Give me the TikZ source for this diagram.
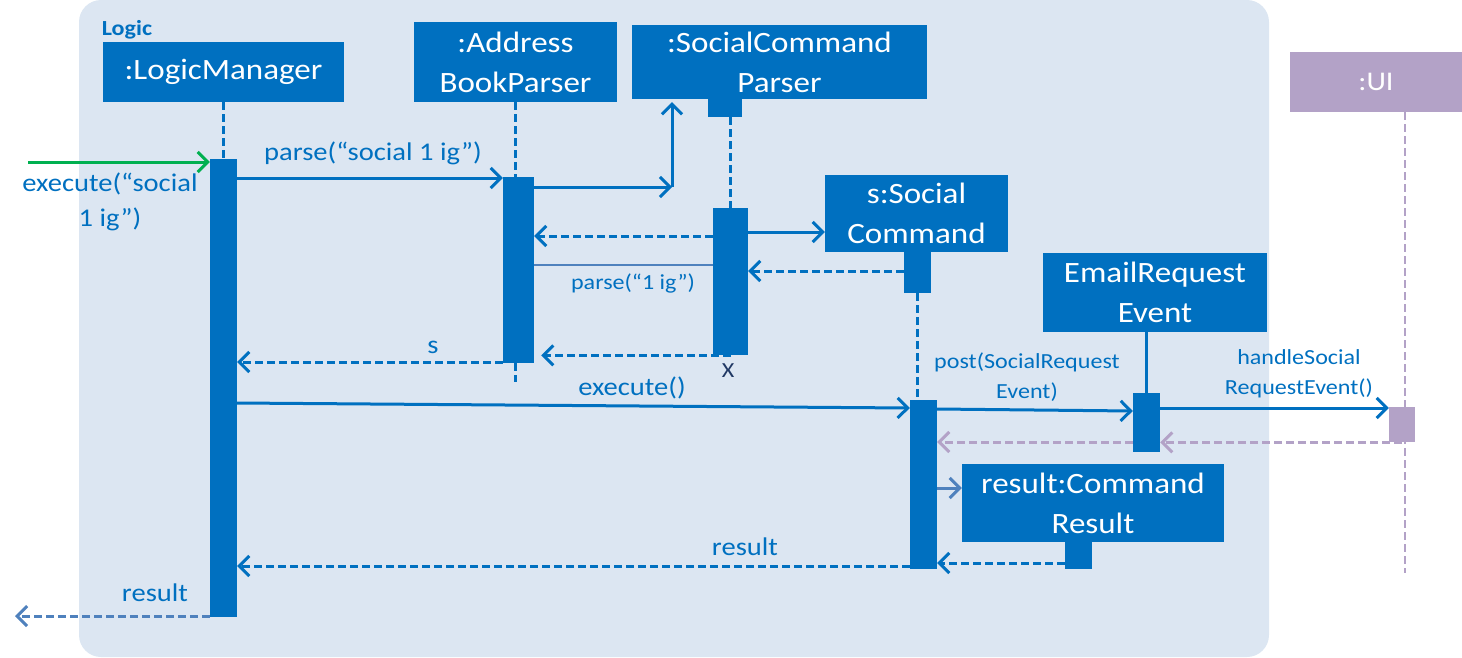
\documentclass[tikz,border=0pt]{standalone}
\usepackage{fontspec}
\setmainfont{Carlito}[FakeStretch=1.12]
\usetikzlibrary{arrows.meta}
\definecolor{seqblue}{HTML}{0070C0}
\definecolor{seqlight}{HTML}{4F81BD}
\definecolor{logicbg}{HTML}{DCE6F2}
\definecolor{uipurple}{HTML}{B3A2C7}
\definecolor{foundgreen}{HTML}{00B050}
\definecolor{xnavy}{HTML}{203864}
\tikzset{%
	obj/.style={
		rectangle,
		fill=seqblue,
		text=white,
		inner sep=0pt,
		align=center,
		font=\fontsize{29.5}{40}\selectfont
	},
	ui obj/.style={obj, fill=uipurple, font=\fontsize{27}{32}\selectfont},
	bar/.style={
		rectangle,
		fill=seqblue,
		inner sep=0pt,
		minimum width=27pt,
		anchor=north
	},
	life/.style={draw=seqblue, line width=2.5pt, dash pattern=on 8pt off 4pt},
	msg/.style={draw=seqblue, line width=3pt, -{Straight Barb[length=10pt,width=20pt]}},
	reply/.style={msg, dash pattern=on 8pt off 4pt},
	lbl/.style={text=seqblue, inner sep=0pt, align=center, font=\fontsize{25.5}{35}\selectfont},
	small lbl/.style={lbl, font=\fontsize{21.5}{30}\selectfont},
}
\begin{document}
\begin{tikzpicture}[x=1pt, y=-1pt]
	\useasboundingbox (0,0) rectangle (1462,657);
	\fill[logicbg, rounded corners=22pt] (79,0) rectangle (1269,657);
	\node[text=seqblue, inner sep=0pt, font=\bfseries\fontsize{21.5}{24}\selectfont] (logic) at (127,30) {Logic};

	\node[obj, minimum width=241pt, minimum height=60pt] (lm) at (223.5,72) {:LogicManager};
	\node[obj, minimum width=203pt, minimum height=80pt] (abp) at (515.5,62) {:Address\\BookParser};
	\node[obj, minimum width=295pt, minimum height=74pt] (scp) at (779.5,62) {:SocialCommand\\Parser};
	\node[obj, minimum width=183pt, minimum height=77pt] (sc) at (916.5,213.5) {s:Social\\Command};
	\node[obj, minimum width=224pt, minimum height=79pt] (ere) at (1155,292.5) {EmailRequest\\Event};
	\node[obj, minimum width=262pt, minimum height=78pt] (res) at (1093,503) {result:Command\\Result};
	\node[ui obj, minimum width=172pt, minimum height=60pt] (ui) at (1376,82) {:UI};

	\node[bar, minimum height=458pt] (lmbar) at (223.5,159) {};
	\node[bar, minimum width=31pt, minimum height=186pt] (abpbar) at (518.5,177) {};
	\node[bar, minimum width=34pt, minimum height=18pt] (scptop) at (725,99) {};
	\node[bar, minimum width=35pt, minimum height=147pt] (scpbar) at (730.5,208) {};
	\node[bar, minimum height=41pt] (scblock) at (917.5,252) {};
	\node[bar, minimum height=169pt] (scbar) at (923.5,400) {};
	\node[bar, minimum height=59pt] (erebar) at (1146.5,393) {};
	\node[bar, minimum height=27pt] (resblock) at (1078.5,542) {};

	% lifelines
	\draw[life] (lm.south) -- (lmbar.north);
	\draw[life] (abp.south) -- (abp.south |- abpbar.north);
	\draw[life] (abp.south |- abpbar.south) -- ++(0,19);
	\draw[life] (scptop.south -| scpbar.north) -- (scpbar.north);
	\draw[life] (scblock.south) -- (scblock.south |- scbar.north);
	\draw[seqblue, line width=2.5pt] (ere.south -| erebar.north) -- (erebar.north);
	\coordinate (uiend) at (1405,573);
	\draw[life, draw=uipurple] (ui.south -| uiend) -- (uiend);
	\node[bar, fill=uipurple, minimum width=26pt, minimum height=35pt] (uibar) at (1402,407) {};

	% messages
	\coordinate (in) at (28,162);
	\draw[msg, draw=foundgreen] (in) -- (lmbar.west |- in);
	\node[lbl] (l0) at (110,202) {execute(“social\\1 ig”)};
	\draw[msg] (lmbar.east |- 0,178) -- (abpbar.west |- 0,178);
	\node[lbl] (l1) at (373,153) {parse(“social 1 ig”)};
	\coordinate (mk) at (672,187);
	\draw[msg] (abpbar.east |- mk) -- (mk);
	\draw[msg, shorten >=3pt] (mk) -- (mk |- scp.south);
	\draw[reply] (scpbar.west |- 0,236) -- (abpbar.east |- 0,236);
	\draw[seqlight, line width=2.5pt] (abpbar.east |- 0,265) -- (scpbar.west |- 0,265);
	\node[small lbl] (l2) at (633,283) {parse(“1 ig”)};
	\draw[msg] (scpbar.east |- 0,232) -- (sc.west |- 0,232);
	\draw[reply] (scblock.west |- 0,271) -- (scpbar.east |- 0,271);
	\draw[reply, shorten >=7pt] (scpbar.south) -- (abpbar.east |- scpbar.south);
	\node[small lbl, text=xnavy] (kill) at (728,371) {X};
	\draw[reply] (abpbar.west |- 0,362) -- (lmbar.east |- 0,362);
	\node[lbl] (l3) at (433,347) {s};
	\draw[msg] (lmbar.east |- 0,403) -- (scbar.west |- 0,408);
	\node[lbl] (l4) at (632,388) {execute()};
	\draw[msg] (scbar.east |- 0,409) -- (erebar.west |- 0,411);
	\node[small lbl] (l5) at (1027,377) {post(SocialRequest\\Event)};
	\draw[msg] (erebar.east |- 0,408) -- (uibar.west |- 0,408);
	\node[small lbl] (l6) at (1299,374) {handleSocial\\RequestEvent()};
	\draw[reply, draw=uipurple] (uibar.south) -- (erebar.east |- uibar.south);
	\draw[reply, draw=uipurple] (erebar.west |- 0,442) -- (scbar.east |- 0,442);
	\draw[msg, draw=seqlight] (scbar.east |- 0,488) -- (res.west |- 0,488);
	\draw[reply] (resblock.west |- 0,563) -- (scbar.east |- 0,563);
	\draw[reply] (scbar.west |- 0,566) -- (lmbar.east |- 0,566);
	\node[lbl] (l7) at (745,547) {result};
	\coordinate (out) at (15,616);
	\draw[reply, draw=seqlight] (lmbar.west |- out) -- (out);
	\node[lbl] (l8) at (155,593) {result};
\end{tikzpicture}
\end{document}
